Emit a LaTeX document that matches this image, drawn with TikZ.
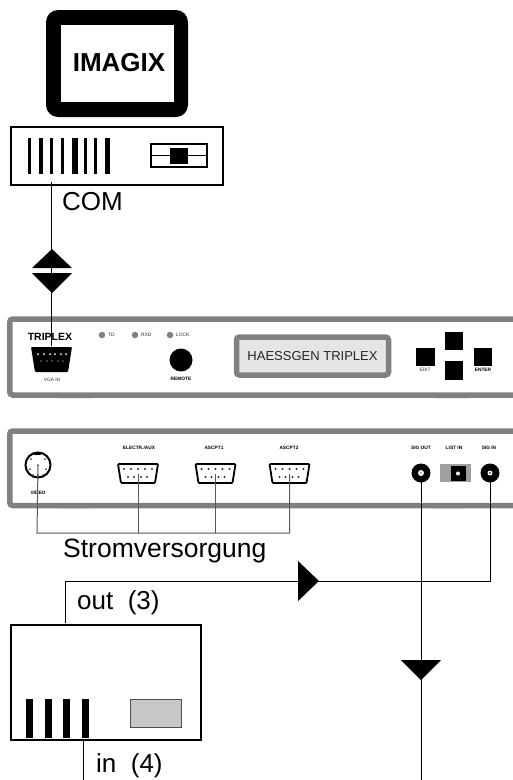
\documentclass[tikz,border=0pt]{standalone}
\usepackage{fontspec}
\setmainfont{Liberation Sans}
\definecolor{panelgray}{gray}{0.5}
\definecolor{footgray}{gray}{0.35}
\definecolor{wiregray}{gray}{0.35}
\tikzset{
  big/.style={font=\fontsize{26}{26}\selectfont,inner sep=0pt,anchor=base west},
  tiny/.style={font=\fontsize{4.8}{5}\selectfont,inner sep=0pt,text=black!85},
  tinyb/.style={font=\fontsize{4.8}{5}\bfseries\selectfont,inner sep=0pt},
  device/.style={draw=black,line width=2pt,fill=white,inner sep=0pt,rectangle},
  bar/.style={fill=black,draw=none},
  wire/.style={draw=black,line width=1pt},
  gwire/.style={draw=wiregray,line width=1pt},
  tip/.style={fill=black,draw=none},
  panel/.style={draw=panelgray,line width=5.5pt,rounded corners=3pt},
  foot/.style={fill=footgray,draw=none},
  pushbtn/.style={fill=black,draw=none,inner sep=0pt,minimum width=18.5pt,minimum height=18.5pt,rectangle},
  led/.style={fill=gray,draw=none,circle,inner sep=0pt,minimum size=6.5pt},
  jack/.style={circle,fill=black,inner sep=0pt,minimum size=19pt},
}
\begin{document}
\begin{tikzpicture}[x=1pt,y=-1pt]
\useasboundingbox (0,0) rectangle (513,780);
% monitor
\fill[black,rounded corners=12pt] (46,10) rectangle (188,117);
\node[fill=white,inner sep=0pt,minimum width=113pt,minimum height=77pt] (screen) at (117.5,63.5) {};
\node[font=\fontsize{26}{26}\bfseries\selectfont,inner sep=0pt] (imagix) at (119,63) {IMAGIX};
% computer
\node[device,minimum width=212pt,minimum height=58pt] (computer) at (116.5,155.5) {};
\foreach \xa/\xb in {28/31,38.5/43,50/52.5,61/63.5,71.5/77.5,84/86.5,94/96.5,105/110}
  \fill[bar] (\xa,138) rectangle (\xb,174);
\draw[black,line width=2pt] (151,144) rectangle (207,167);
\draw[black,line width=1pt] (151,155.5) -- (207,155.5);
\fill[bar] (170,148) rectangle (188,164);
\node[big] (com) at (62,210) {COM};
\coordinate (comport) at (51.5,182);
% front panel
\fill[foot] (58,398) arc[start angle=180,end angle=360,x radius=17,y radius=5] -- cycle;
\fill[foot] (435,398) arc[start angle=180,end angle=360,x radius=17,y radius=5] -- cycle;
\draw[panel] (516,319) -- (9.75,319) -- (9.75,395) -- (516,395);
\node[font=\fontsize{10.5}{11}\bfseries\selectfont,inner sep=0pt,anchor=base] (triplexlabel) at (50,340) {TRIPLEX};
\path[fill=black,rounded corners=1pt] (31,347) -- (72,347) -- (68,372) -- (35,372) -- cycle;
\coordinate (vgain) at (51.5,346);
\foreach \x in {38,44,50,55,61,66} \fill[white] (\x,354) circle[radius=1];
\foreach \x in {41,47,52,58,63} \fill[white] (\x,361) circle[radius=.7];
\node[tiny] (vgalabel) at (52,380) {VGA IN};
\node[led] (led1) at (102,335) {};
\node[led] (led2) at (135,335) {};
\node[led] (led3) at (170,335) {};
\node[tiny,anchor=west] (t1) at (108,335) {TD};
\node[tiny,anchor=west] (t2) at (141,335) {RXD};
\node[tiny,anchor=west] (t3) at (176,335) {LOCK};
\node[circle,fill=black,inner sep=0pt,minimum size=23pt] (remote) at (181,360) {};
\node[tinyb] (remotelabel) at (181,379) {REMOTE};
\node[draw=panelgray,line width=5.5pt,fill=black!10,rounded corners=3pt,inner sep=0pt,minimum width=152pt,minimum height=38pt] (display) at (312.5,356) {};
\node[font=\fontsize{13}{13}\selectfont,inner sep=0pt,text=black!85] (displaytext) at (312.5,356.5) {HAESSGEN TRIPLEX};
\node[pushbtn] (up) at (454,341) {};
\node[pushbtn] (down) at (454,370.5) {};
\node[pushbtn] (left) at (425.5,357) {};
\node[pushbtn] (right) at (483,357) {};
\node[tiny] (lefttext) at (425,370) {EDIT};
\node[tinyb] (righttext) at (483,370) {ENTER};
% diamond and COM wire
\fill[tip] (52,249) -- (72,268) -- (32,268) -- cycle;
\fill[tip] (32,273) -- (72,273) -- (52,293) -- cycle;
\draw[wire] (comport) -- (vgain);
% back panel
\fill[foot] (59,508) arc[start angle=180,end angle=360,x radius=16,y radius=4.5] -- cycle;
\fill[foot] (432,508) arc[start angle=180,end angle=360,x radius=16,y radius=4.5] -- cycle;
\draw[panel] (516,431) -- (9.75,431) -- (9.75,505.5) -- (516,505.5);
% DIN socket
\node[circle,draw=black,line width=2pt,fill=white,inner sep=0pt,minimum size=25pt] (din) at (38,465) {};
\fill[black] (34,452) rectangle (41,455);
\foreach \x/\y in {31/459,45/459,38/465,30/469,46/469,33/475,43/475,38/475} \fill[black!75] (\x,\y) circle[radius=1];
\node[tinyb] (dinlabel) at (38,493) {VIDEO};
% D-sub sockets
\foreach \c/\n in {138/sa,215.5/sb,289.5/sc}{
  \path[draw=black,line width=1.8pt,fill=white,rounded corners=1pt] (\c-20,464) -- (\c+20,464) -- (\c+17,483) -- (\c-17,483) -- cycle;
  \coordinate (\n) at (\c,474);
  \foreach \dx in {-14,-7,0,7,14} \fill[black!80] (\c+\dx,469) circle[radius=1.1];
  \foreach \dx in {-10,-4,3,9} \fill[black!80] (\c+\dx,477) circle[radius=1.1];
}
\node[tinyb] (salabel) at (139,448) {ELECTR./AUX};
\node[tinyb] (sblabel) at (214,448) {ASCPT1};
\node[tinyb] (sclabel) at (289,448) {ASCPT2};
% jacks
\node[jack] (sigout) at (421,473) {};
\node[jack] (sigin) at (490,473) {};
\coordinate (sigoutc) at (421,473);
\coordinate (siginc) at (490,473);
\fill[gray!75] (440,464) rectangle (471,482);
\node[rectangle,fill=black,inner sep=0pt,minimum width=15pt,minimum height=15pt] (listin) at (458,473.5) {};
\fill[white] (458,473.5) circle[radius=2];
\node[tinyb] (siglabel) at (421,448) {SIG OUT};
\node[tinyb] (listlabel) at (454,448) {LIST IN};
\node[tinyb] (inlabel) at (489,448) {SIG IN};
% power wiring
\coordinate (powerbus) at (37,533);
\draw[gwire] (din.center) -- (powerbus) -- (sc |- powerbus) -- (sc);
\draw[gwire] (sa) -- (sa |- powerbus);
\draw[gwire] (sb) -- (sb |- powerbus);
\node[big,font=\fontsize{26.5}{27}\selectfont] (strom) at (63,557) {Stromversorgung};
% lower box
\node[device,minimum width=190pt,minimum height=115pt] (box) at (105.5,682) {};
\foreach \xa in {26,45,63,82} \fill[bar] (\xa,699) rectangle (\xa+6.5,738);
\node[rectangle,draw=black!70,line width=1pt,fill=black!22,inner sep=0pt,minimum width=51pt,minimum height=28pt] (grayrect) at (155.5,713) {};
\node[big] (outl) at (77,609) {out\ \ (3)};
\node[big] (inl) at (96,772) {in\ \ (4)};
% signal wiring
\coordinate (bend) at (65,581);
\coordinate (outport) at (65,623);
\coordinate (inport) at (83.5,741);
\coordinate (inend) at (83.5,780);
\coordinate (sigend) at (421,780);
\draw[wire] (outport) -- (bend) -- (sigin |- bend) -- (siginc);
\draw[wire] (sigoutc) -- (sigend);
\draw[wire] (inport) -- (inend);
\fill[tip] (298,561) -- (319,581) -- (298,601) -- cycle;
\fill[tip] (401,660) -- (441,660) -- (421,680) -- cycle;
\fill[white] (421,473) circle[radius=3];
\fill[black] (421,473) circle[radius=.6];
\fill[white] (490,473) circle[radius=2.5];
\fill[black] (490,473) circle[radius=.8];
\end{tikzpicture}
\end{document}
